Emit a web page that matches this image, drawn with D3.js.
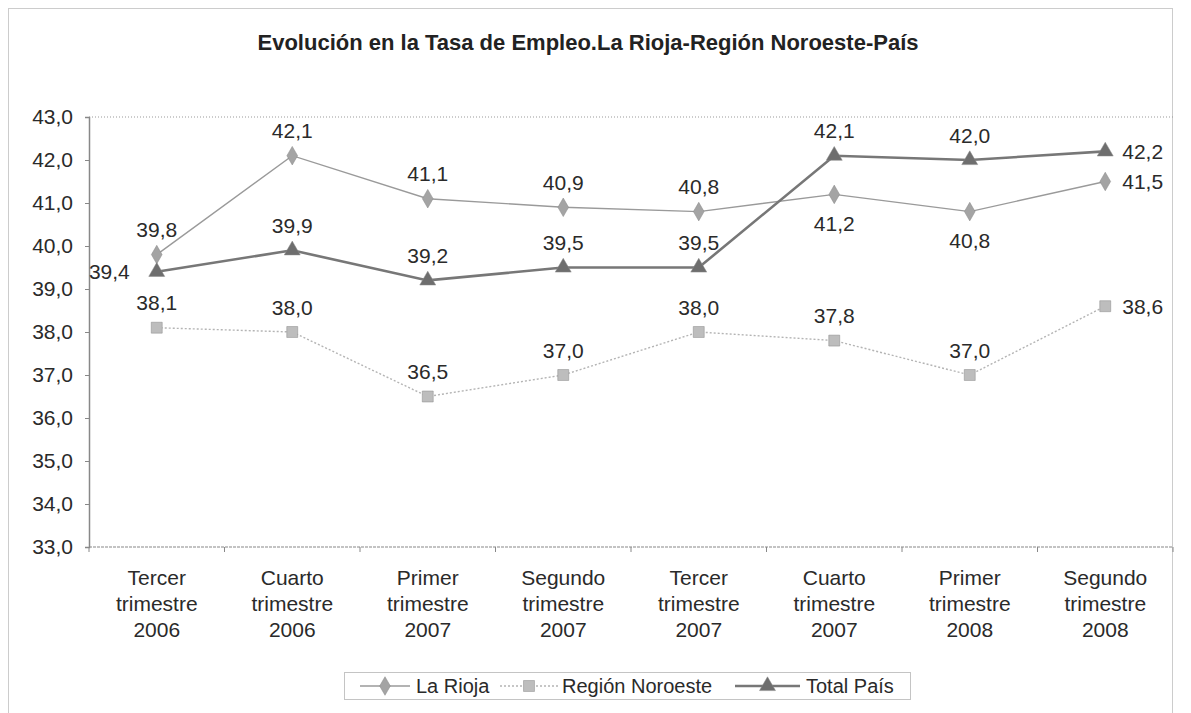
<!DOCTYPE html>
<html>
<head>
<meta charset="utf-8">
<script src="https://cdn.jsdelivr.net/npm/d3@7"></script>
<style>
  body { margin: 0; background: #fff; }
  text { font-family: "Liberation Sans", Arial, sans-serif; fill: #2a2a2a; }
</style>
</head>
<body>
<svg id="chart" width="1191" height="713"></svg>
<script>
const categories = [
  ["Tercer", "trimestre", "2006"],
  ["Cuarto", "trimestre", "2006"],
  ["Primer", "trimestre", "2007"],
  ["Segundo", "trimestre", "2007"],
  ["Tercer", "trimestre", "2007"],
  ["Cuarto", "trimestre", "2007"],
  ["Primer", "trimestre", "2008"],
  ["Segundo", "trimestre", "2008"]
];
const laRioja = [39.8, 42.1, 41.1, 40.9, 40.8, 41.2, 40.8, 41.5];
const regionNoroeste = [38.1, 38.0, 36.5, 37.0, 38.0, 37.8, 37.0, 38.6];
const totalPais = [39.4, 39.9, 39.2, 39.5, 39.5, 42.1, 42.0, 42.2];
const yTicks = [33, 34, 35, 36, 37, 38, 39, 40, 41, 42, 43];

// where each data label sits: t = above, b = below, r = right, l = left
const riojaPlace = ["t", "t", "t", "t", "t", "b", "b", "r"];
const noroestePlace = ["t", "t", "t", "t", "t", "t", "t", "r"];
const paisPlace = ["l", "t", "t", "t", "t", "t", "t", "r"];

const svg = d3.select("#chart");
const fmt = d => d.toFixed(1).replace(".", ",");

// outer frame (cut at the bottom like the source picture)
svg.append("rect")
  .attr("x", 8.5).attr("y", 8.5)
  .attr("width", 1164).attr("height", 760)
  .attr("fill", "none").attr("stroke", "#999")
  .attr("stroke-dasharray", "1,1");

svg.append("text")
  .attr("x", 588).attr("y", 50)
  .attr("text-anchor", "middle")
  .style("font-weight", "bold").style("font-size", "22px")
  .style("fill", "#222")
  .text("Evolución en la Tasa de Empleo.La Rioja-Región Noroeste-País");

const x = d3.scaleBand().domain(d3.range(categories.length)).range([89, 1173]);
const y = d3.scaleLinear().domain([33, 43]).range([547, 117]);
const cx = i => x(i) + x.bandwidth() / 2;

// top gridline
svg.append("line")
  .attr("x1", 89).attr("x2", 1173)
  .attr("y1", y(43)).attr("y2", y(43))
  .attr("stroke", "#999").attr("stroke-dasharray", "1,2");

// y axis
const yAxis = svg.append("g")
  .attr("transform", "translate(89,0)")
  .call(d3.axisLeft(y).tickValues(yTicks).tickFormat(fmt).tickSize(4).tickPadding(12));
yAxis.select(".domain").attr("stroke", "#888").attr("stroke-width", 1.5);
yAxis.selectAll(".tick line").attr("stroke", "#888");
yAxis.selectAll(".tick text").style("font-size", "21px").attr("fill", "#2a2a2a");

// x axis
svg.append("line")
  .attr("x1", 89).attr("x2", 1173)
  .attr("y1", 547).attr("y2", 547)
  .attr("stroke", "#888").attr("stroke-width", 1.2).attr("stroke-dasharray", "3,1");
svg.selectAll(".xtick")
  .data(d3.range(categories.length + 1))
  .join("line")
  .attr("x1", i => 89 + i * x.bandwidth())
  .attr("x2", i => 89 + i * x.bandwidth())
  .attr("y1", 547).attr("y2", 552)
  .attr("stroke", "#888");

const xl = svg.selectAll(".xlab")
  .data(categories)
  .join("text")
  .attr("text-anchor", "middle")
  .style("font-size", "21px");
xl.selectAll("tspan")
  .data((d, i) => d.map(s => ({ s, i })))
  .join("tspan")
  .attr("x", d => cx(d.i))
  .attr("y", (d, j) => 585 + j * 26)
  .text(d => d.s);

const series = [
  { name: "La Rioja", values: laRioja, place: riojaPlace, color: "#9a9a9a", width: 1.4, dash: null,
    mark: d3.symbolDiamond, size: 100, fill: "#a4a4a4" },
  { name: "Región Noroeste", values: regionNoroeste, place: noroestePlace, color: "#b4b4b4", width: 1.4, dash: "2,2",
    mark: d3.symbolSquare, size: 120, fill: "#bdbdbd" },
  { name: "Total País", values: totalPais, place: paisPlace, color: "#777", width: 2.6, dash: null,
    mark: d3.symbolTriangle, size: 110, fill: "#6e6e6e" }
];

const line = d3.line().x((d, i) => cx(i)).y(d => y(d));

series.forEach(s => {
  svg.append("path")
    .datum(s.values)
    .attr("d", line)
    .attr("fill", "none")
    .attr("stroke", s.color)
    .attr("stroke-width", s.width)
    .attr("stroke-dasharray", s.dash);
  svg.selectAll(null)
    .data(s.values)
    .join("path")
    .attr("transform", (d, i) => `translate(${cx(i)},${y(d)})`)
    .attr("d", d3.symbol(s.mark, s.size))
    .attr("fill", s.fill)
    .attr("stroke", "#888").attr("stroke-width", 0.5);
});

series.forEach(s => {
  svg.selectAll(null)
    .data(s.values)
    .join("text")
    .style("font-size", "21px")
    .attr("dominant-baseline", "central")
    .attr("text-anchor", (d, i) => s.place[i] === "r" ? "start" : s.place[i] === "l" ? "end" : "middle")
    .attr("x", (d, i) => cx(i) + (s.place[i] === "r" ? 17 : s.place[i] === "l" ? -27 : 0))
    .attr("y", (d, i) => y(d) + (s.place[i] === "t" ? -25 : s.place[i] === "b" ? 29 : 0))
    .text(fmt);
});

// legend
svg.append("rect")
  .attr("x", 344.5).attr("y", 672.5)
  .attr("width", 566).attr("height", 27)
  .attr("fill", "#fff").attr("stroke", "#888")
  .attr("stroke-dasharray", "1,1");
const legendPos = [
  { x1: 360, x2: 410, tx: 416 },
  { x1: 500, x2: 558, tx: 562 },
  { x1: 735, x2: 800, tx: 806 }
];
series.forEach((s, k) => {
  const p = legendPos[k];
  const g = svg.append("g");
  g.append("line")
    .attr("x1", p.x1).attr("x2", p.x2).attr("y1", 686).attr("y2", 686)
    .attr("stroke", s.color).attr("stroke-width", s.width).attr("stroke-dasharray", s.dash);
  g.append("path")
    .attr("transform", `translate(${(p.x1 + p.x2) / 2},686)`)
    .attr("d", d3.symbol(s.mark, s.size))
    .attr("fill", s.fill).attr("stroke", "#888").attr("stroke-width", 0.5);
  g.append("text")
    .attr("x", p.tx).attr("y", 686)
    .attr("dominant-baseline", "central")
    .style("font-size", "20px")
    .text(s.name);
});
</script>
</body>
</html>
